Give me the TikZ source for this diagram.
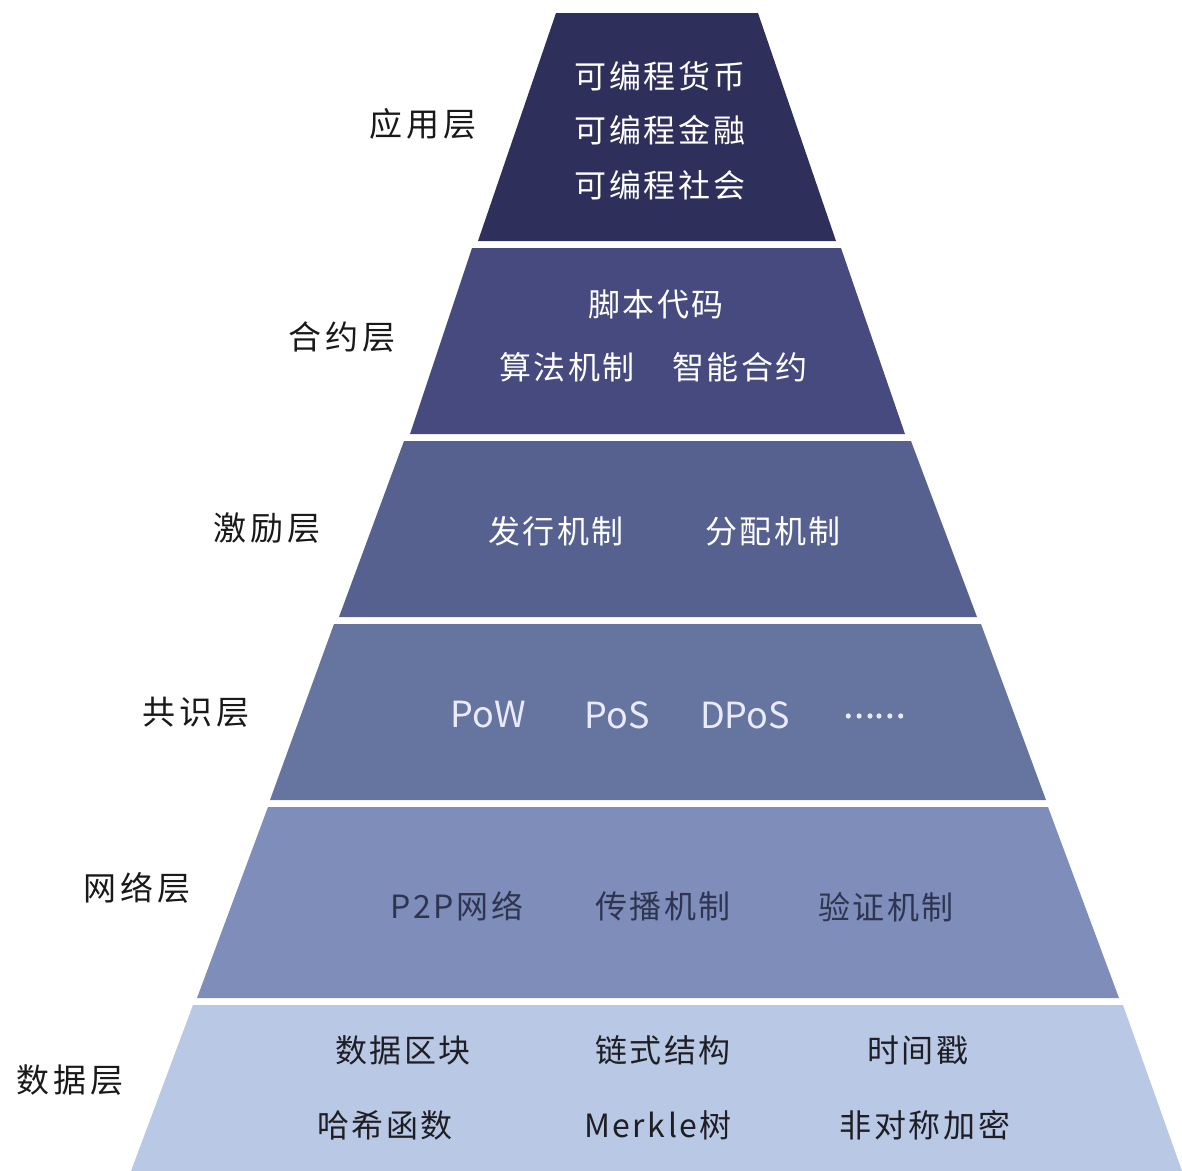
\documentclass[tikz,border=0pt]{standalone}
\usepackage{fontspec}
\setmainfont{Noto Sans CJK SC}
\newfontfamily\lblfont[LetterSpace=12]{Noto Sans CJK SC}
\newfontfamily\cntfont[LetterSpace=8]{Noto Sans CJK SC}
\newfontfamily\dotfont[FakeBold=4]{Noto Sans CJK SC}
\definecolor{cA}{HTML}{2E2F5B}
\definecolor{cB}{HTML}{464A7F}
\definecolor{cC}{HTML}{566190}
\definecolor{cD}{HTML}{6674A0}
\definecolor{cE}{HTML}{7E8DBA}
\definecolor{cF}{HTML}{B9C8E5}
\definecolor{txtdark}{HTML}{2F3550}
\definecolor{txtblack}{HTML}{1E1E24}
\tikzset{
  lab/.style={font=\lblfont\fontsize{33bp}{40bp}\selectfont, text=black!90, inner sep=0pt, anchor=center},
  tw/.style={font=\cntfont\fontsize{32bp}{40bp}\selectfont, text=white, inner sep=0pt, anchor=center},
  td/.style={tw, text=txtdark},
  tb/.style={tw, text=txtblack},
  lat/.style={font=\fontsize{36bp}{40bp}\selectfont, text=white!92!blue, inner sep=0pt, anchor=center},
}
\begin{document}
\begin{tikzpicture}[x=1bp,y=-1bp]
\useasboundingbox (0,0) rectangle (1182,1171);
% layers
\fill[cA] (556,13) -- (758,13) -- (836,241) -- (478,241) -- cycle;
\fill[cB] (472,248) -- (841,248) -- (905,434) -- (410,434) -- cycle;
\fill[cC] (404,441) -- (911,441) -- (977,617) -- (339,617) -- cycle;
\fill[cD] (334,624) -- (981,624) -- (1046,800) -- (270,800) -- cycle;
\fill[cE] (268,807) -- (1048,807) -- (1119,998) -- (197,998) -- cycle;
\fill[cF] (193,1005) -- (1123,1005) -- (1182,1171) -- (131,1171) -- cycle;
% left labels
\node[lab] (l1) at (423,124) {应用层};
\node[lab] (l2) at (342,337) {合约层};
\node[lab] (l3) at (267,528) {激励层};
\node[lab] (l4) at (196,712) {共识层};
\node[lab] (l5) at (137,888) {网络层};
\node[lab] (l6) at (70,1080) {数据层};
% layer 1
\node[tw] (a1) at (660,76) {可编程货币};
\node[tw] (a2) at (660,130) {可编程金融};
\node[tw] (a3) at (660,185) {可编程社会};
% layer 2
\node[tw] (b1) at (656,304) {脚本代码};
\node[tw] (b2) at (567,367) {算法机制};
\node[tw] (b3) at (740,367) {智能合约};
% layer 3
\node[tw] (c1) at (556,531) {发行机制};
\node[tw] (c2) at (773,531) {分配机制};
% layer 4
\node[lat] (d1) at (488,715) {PoW};
\node[lat] (d2) at (617,715) {PoS};
\node[lat] (d3) at (745,715) {DPoS};
\node[lat, font=\dotfont\fontsize{29bp}{30bp}\selectfont] (d4) at (874,716) {……};
% layer 5
\node[td] (e1) at (457,906) {P2P网络};
\node[td] (e2) at (663,906) {传播机制};
\node[td] (e3) at (886,907) {验证机制};
% layer 6
\node[tb] (f1) at (403,1050) {数据区块};
\node[tb] (f2) at (663,1050) {链式结构};
\node[tb] (f3) at (918,1050) {时间戳};
\node[tb] (f4) at (385,1125) {哈希函数};
\node[tb] (f5) at (658,1125) {Merkle树};
\node[tb] (f6) at (925,1125) {非对称加密};
\end{tikzpicture}
\end{document}
